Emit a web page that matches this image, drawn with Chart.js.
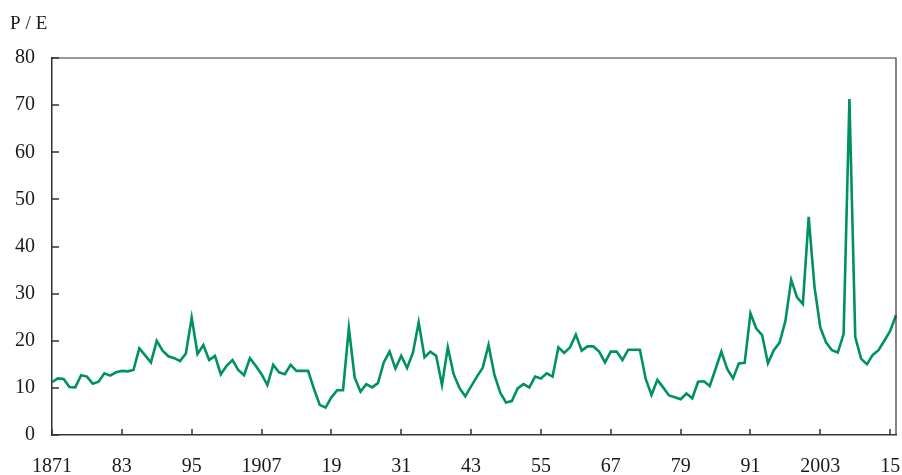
<!DOCTYPE html>
<html>
<head>
<meta charset="utf-8">
<script src="https://cdn.jsdelivr.net/npm/chart.js@4.4.0/dist/chart.umd.min.js"></script>
<style>
	body { margin: 0; background: #fff; }
	#wrap { position: relative; width: 902px; height: 475px; }
	#unit {
		position: absolute;
		left: 10px;
		top: 13px;
		font: 19px "Liberation Serif", serif;
		line-height: 19px;
		letter-spacing: 5px;
		color: #1a1a1a;
	}
</style>
</head>
<body>
<div id="wrap">
	<canvas id="chart01"></canvas>
	<div id="unit">P/E</div>
</div>
<script>
const years = Array.from({ length: 146 }, (_, i) => 1871 + i);

const peRatio = [
	11.2, 12.0, 11.9, 10.2, 10.1, 12.7, 12.4, 10.9, 11.3, 13.1,
	12.6, 13.3, 13.6, 13.5, 13.8, 18.4, 16.9, 15.4, 20.0, 17.9,
	16.7, 16.3, 15.7, 17.3, 24.9, 17.2, 19.1, 15.9, 16.8, 12.9,
	14.7, 15.9, 13.8, 12.7, 16.3, 14.7, 12.9, 10.6, 14.9, 13.3,
	12.9, 14.9, 13.6, 13.6, 13.6, 9.8, 6.4, 5.8, 8.0, 9.5,
	9.5, 22.7, 12.2, 9.2, 10.8, 10.1, 11.0, 15.4, 17.7, 14.1,
	16.8, 14.2, 17.4, 23.9, 16.5, 17.7, 16.8, 10.6, 18.6, 12.9,
	10.0, 8.2, 10.3, 12.4, 14.3, 19.1, 12.8, 9.0, 6.9, 7.2,
	9.9, 10.8, 10.1, 12.4, 12.0, 13.1, 12.4, 18.6, 17.4, 18.6,
	21.3, 17.9, 18.8, 18.8, 17.7, 15.4, 17.7, 17.7, 15.9, 18.1,
	18.1, 18.1, 11.9, 8.5, 11.7, 10.1, 8.4, 8.0, 7.6, 8.8,
	7.8, 11.3, 11.4, 10.4, 14.0, 17.7, 14.0, 12.0, 15.2, 15.3,
	25.8, 22.6, 21.2, 15.2, 18.0, 19.6, 24.2, 32.9, 29.2, 27.8,
	46.3, 31.4, 22.8, 19.6, 18.0, 17.5, 21.4, 71.3, 20.8, 16.2,
	15.0, 17.0, 18.0, 20.0, 22.1, 25.4,
];

const tickYears = [1871, 1883, 1895, 1907, 1919, 1931, 1943, 1955, 1967, 1979, 1991, 2003, 2015];
const tickText = ["1871", "83", "95", "1907", "19", "31", "43", "55", "67", "79", "91", "2003", "15"];
const yTicks = [0, 10, 20, 30, 40, 50, 60, 70, 80];

const axisColor = "#333";
const font = { family: "'Liberation Serif', serif", size: 20 };

// inward tick marks plus the top and right frame
const frameAndTicks = {
	id: "frameAndTicks",
	afterDatasetsDraw(chart) {
		const { ctx, chartArea: a, scales: { x, y } } = chart;
		ctx.save();
		ctx.strokeStyle = axisColor;
		ctx.lineWidth = 1.2;
		ctx.beginPath();
		ctx.moveTo(a.left, a.top);
		ctx.lineTo(a.right, a.top);
		ctx.lineTo(a.right, a.bottom);
		ctx.stroke();

		ctx.lineWidth = 1.5;
		ctx.beginPath();
		yTicks.forEach((v) => {
			const py = Math.round(y.getPixelForValue(v));
			ctx.moveTo(a.left, py);
			ctx.lineTo(a.left + 7, py);
		});
		tickYears.forEach((yr) => {
			const px = Math.round(x.getPixelForValue(years.indexOf(yr)));
			ctx.moveTo(px, a.bottom);
			ctx.lineTo(px, a.bottom - 6);
		});
		ctx.stroke();
		ctx.restore();
	},
};

const data = {
	labels: years,
	datasets: [
		{
			label: "P/E",
			data: peRatio,
			borderColor: "#009160",
			borderWidth: 2.6,
			pointRadius: 0,
			tension: 0,
			fill: false,
		},
	],
};

const options = {
	responsive: true,
	maintainAspectRatio: false,
	animation: false,
	layout: { padding: { top: 58, right: 6, left: 0, bottom: 0 } },
	plugins: {
		legend: { display: false },
		tooltip: { enabled: false },
	},
	scales: {
		x: {
			type: "category",
			offset: false,
			grid: { display: true, drawOnChartArea: false, drawTicks: false },
			border: { display: true, color: axisColor, width: 1.5 },
			ticks: {
				autoSkip: false,
				maxRotation: 0,
				minRotation: 0,
				padding: 20,
				color: "#1a1a1a",
				font,
				callback(value, index) {
					const k = tickYears.indexOf(years[index]);
					return k >= 0 ? tickText[k] : null;
				},
			},
			afterFit(scale) {
				scale.height = 40;
				scale.paddingLeft = 0;
				scale.paddingRight = 0;
			},
		},
		y: {
			min: 0,
			max: 80,
			grid: { display: true, drawOnChartArea: false, drawTicks: false },
			border: { display: true, color: axisColor, width: 1.5 },
			ticks: {
				stepSize: 10,
				padding: 17,
				color: "#1a1a1a",
				font,
			},
			afterFit(scale) {
				scale.width = 52;
			},
		},
	},
};

new Chart(document.querySelector("#chart01"), {
	type: "line",
	data,
	options,
	plugins: [frameAndTicks],
});
</script>
</body>
</html>
